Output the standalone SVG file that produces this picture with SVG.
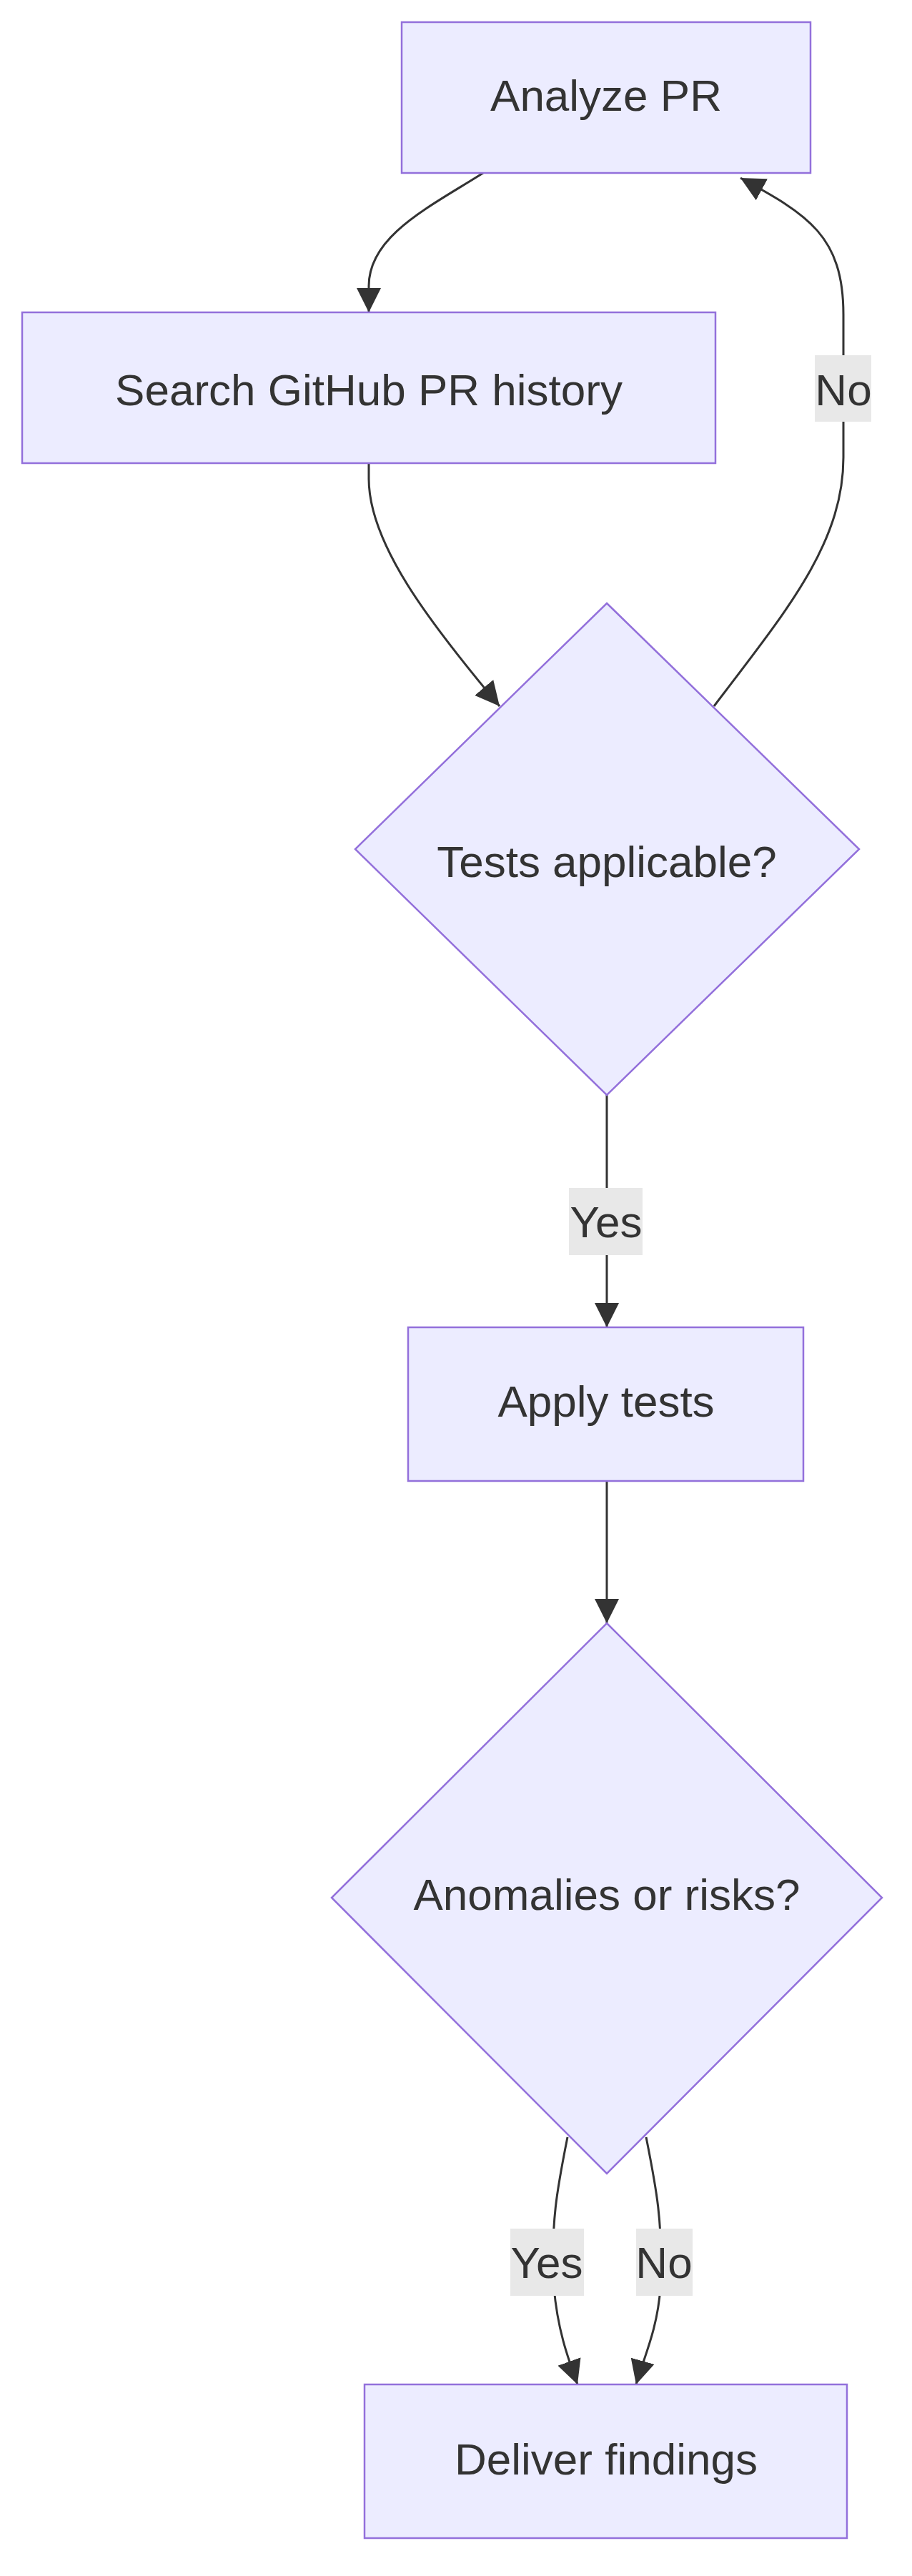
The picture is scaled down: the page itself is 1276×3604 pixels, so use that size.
<svg xmlns="http://www.w3.org/2000/svg" width="1276" height="3604" viewBox="0 0 1276 3604">
<style>
.node{fill:#ececff;stroke:#9370db;stroke-width:2.5}
.edge{fill:none;stroke:#333;stroke-width:3}
.lbl{fill:#e8e8e8}
text{font-family:"Liberation Sans",Arial,sans-serif;font-size:62px;fill:#333;text-anchor:middle;dominant-baseline:central}
</style>
<defs>
<marker id="arr" markerUnits="userSpaceOnUse" markerWidth="34" markerHeight="34" viewBox="0 0 12 12" refX="12" refY="6" orient="auto"><path d="M0,0 L12,6 L0,12 z" fill="#333"/></marker>
</defs>
<rect width="1276" height="3604" fill="#fff"/>
<g id="connectors">
<path class="edge" marker-end="url(#arr)" d="M676,242 C600,290 516,330 516,400 L516,437"/>
<path class="edge" marker-end="url(#arr)" d="M516,648 L516,670 C516,760 600,870 699,988"/>
<path class="edge" marker-end="url(#arr)" d="M999,988 C1100,855 1180,760 1180,640 L1180,440 C1180,330 1130,300 1036,249"/>
<path class="edge" marker-end="url(#arr)" d="M849,1532 L849,1857"/>
<path class="edge" marker-end="url(#arr)" d="M849,2072 L849,2271"/>
<path class="edge" marker-end="url(#arr)" d="M794,2990 C780,3060 770,3110 775,3200 C780,3260 795,3300 808,3336"/>
<path class="edge" marker-end="url(#arr)" d="M904,2990 C918,3060 928,3110 924,3200 C920,3260 900,3300 890,3336"/>
<rect class="lbl" x="1140" y="497" width="79" height="93"/><text x="1180" y="545">No</text>
<rect class="lbl" x="796" y="1662" width="103" height="94"/><text x="848" y="1709">Yes</text>
<rect class="lbl" x="714" y="3118" width="103" height="94"/><text x="765" y="3165">Yes</text>
<rect class="lbl" x="890" y="3118" width="79" height="94"/><text x="929" y="3165">No</text>
</g>
<g id="analyze"><rect class="node" x="562" y="31" width="572" height="211"/><text x="848" y="133">Analyze PR</text></g>
<g id="search"><rect class="node" x="31" y="437" width="970" height="211"/><text x="516" y="545">Search GitHub PR history</text></g>
<g id="tests"><polygon class="node" points="849,844 1202,1188 849,1532 497,1188"/><text x="849" y="1205">Tests applicable?</text></g>
<g id="apply"><rect class="node" x="571" y="1857" width="553" height="215"/><text x="848" y="1960">Apply tests</text></g>
<g id="anomalies"><polygon class="node" points="849,2271 1234,2655 849,3041 464,2655"/><text x="849" y="2650">Anomalies or risks?</text></g>
<g id="deliver"><rect class="node" x="510" y="3336" width="675" height="215"/><text x="848" y="3440">Deliver findings</text></g>
</svg>
